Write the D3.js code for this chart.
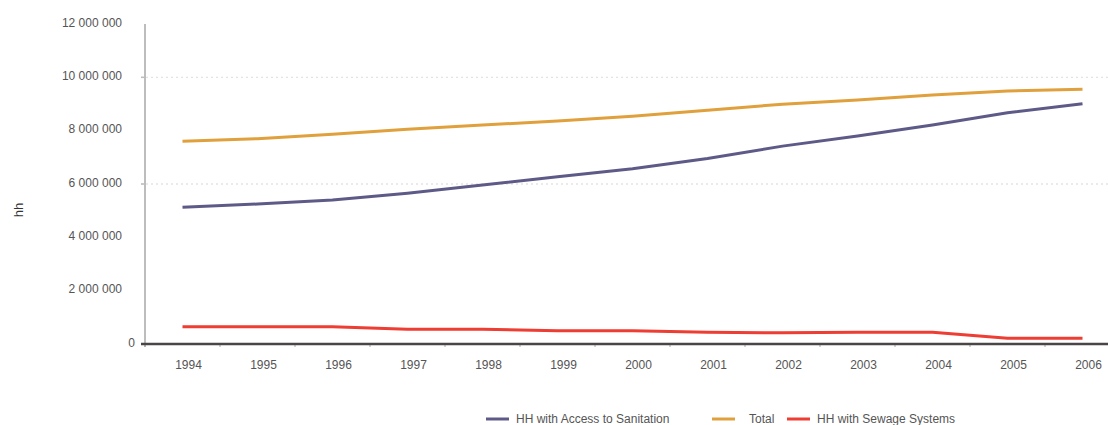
<!DOCTYPE html>
<html>
<head>
<meta charset="utf-8">
<script src="https://cdn.jsdelivr.net/npm/d3@7/dist/d3.min.js"></script>
<style>
  html, body { margin: 0; padding: 0; background: #fff; }
  svg { display: block; font-family: "Liberation Sans", Arial, sans-serif; }
</style>
</head>
<body>
<svg id="chart" width="1108" height="425"></svg>
<script>
const years = ["1994","1995","1996","1997","1998","1999","2000","2001","2002","2003","2004","2005","2006"];
const accessSanitation = [5130000, 5250000, 5400000, 5650000, 5960000, 6270000, 6570000, 6960000, 7420000, 7800000, 8210000, 8670000, 9010000];
const totalHH = [7600000, 7700000, 7870000, 8050000, 8210000, 8360000, 8540000, 8770000, 8990000, 9150000, 9340000, 9490000, 9550000];
const sewerHH = [650000, 650000, 650000, 550000, 550000, 500000, 500000, 440000, 420000, 440000, 440000, 220000, 220000];
const yTicks = [0, 2000000, 4000000, 6000000, 8000000, 10000000, 12000000];
const gridValues = [6000000, 10000000];
const seriesNames = ["HH with Access to Sanitation", "Total", "HH with Sewage Systems"];
const seriesColors = ["#5d5a87", "#e0a03c", "#ee3d33"];

(function () {
const svg = d3.select("#chart");
const mLeft = 145, mRight = 1120, mTop = 24, mBottom = 344;

const x = d3.scaleBand().domain(years).range([mLeft, mRight]);
const y = d3.scaleLinear().domain([0, 12000000]).range([mBottom, mTop]);

const fmt = v => d3.format(",")(v).replace(/,/g, " ");

// gridlines
svg.append("g").selectAll("line").data(gridValues).join("line")
  .attr("x1", mLeft - 4).attr("x2", 1108)
  .attr("y1", d => y(d)).attr("y2", d => y(d))
  .attr("stroke", "#e3e3e3").attr("stroke-width", 1.3)
  .attr("stroke-dasharray", "2,3");
svg.append("g").selectAll("line").data(gridValues).join("line")
  .attr("x1", mLeft - 4).attr("x2", mLeft)
  .attr("y1", d => y(d)).attr("y2", d => y(d))
  .attr("stroke", "#bbb").attr("stroke-width", 1.5);

// y axis line
svg.append("line").attr("x1", mLeft).attr("x2", mLeft)
  .attr("y1", mTop).attr("y2", mBottom + 3)
  .attr("stroke", "#bdbdbd").attr("stroke-width", 2);

// y tick labels
svg.append("g").selectAll("text").data(yTicks).join("text")
  .attr("x", d => d === 0 ? 135 : 122)
  .attr("y", d => y(d) - 1.5)
  .attr("dy", "0.35em")
  .attr("text-anchor", "end")
  .attr("font-size", 12)
  .attr("fill", "#555")
  .text(d => fmt(d));

// y axis title
svg.append("text")
  .attr("transform", "translate(23,210) rotate(-90)")
  .attr("text-anchor", "middle")
  .attr("font-size", 13)
  .attr("fill", "#333")
  .text("hh");

// x axis
const xAxis = d3.axisBottom(x).tickSize(0).tickFormat(d => d);
const gx = svg.append("g").attr("transform", `translate(0,${mBottom})`).call(xAxis);
gx.select(".domain").remove();
gx.selectAll("text")
  .attr("dx", 6).attr("y", 21).attr("dy", "0.35em")
  .attr("font-size", 12).attr("fill", "#555")
  .attr("font-family", "Liberation Sans, Arial, sans-serif");
const bounds = years.map(d => x(d));
svg.append("g").selectAll("line").data(bounds).join("line")
  .attr("x1", d => d).attr("x2", d => d)
  .attr("y1", mBottom).attr("y2", mBottom + 3)
  .attr("stroke", "#aaa").attr("stroke-width", 1);
svg.append("line").attr("x1", mLeft - 4).attr("x2", 1108)
  .attr("y1", mBottom).attr("y2", mBottom)
  .attr("stroke", "#4a4546").attr("stroke-width", 2.5);

// lines
const series = [accessSanitation, totalHH, sewerHH];
const line = d3.line().x((d, i) => x(years[i]) + x.bandwidth() / 2).y(d => y(d));
svg.append("g").selectAll("path").data(series).join("path")
  .attr("d", d => line(d))
  .attr("fill", "none")
  .attr("stroke", (d, i) => seriesColors[i])
  .attr("stroke-width", 3);

// legend
const legendPos = [486, 712, 787];
const lg = svg.append("g").selectAll("g").data(seriesNames).join("g")
  .attr("transform", (d, i) => `translate(${legendPos[i]},419)`);
lg.append("line").attr("x1", 0).attr("x2", 23).attr("y1", 0).attr("y2", 0)
  .attr("stroke", (d, i) => seriesColors[i]).attr("stroke-width", 3);
lg.append("text").attr("x", (d, i) => i === 1 ? 37 : 30).attr("y", 0).attr("dy", "0.35em")
  .attr("font-size", 12).attr("fill", "#555")
  .text(d => d);
})();
</script>
</body>
</html>
